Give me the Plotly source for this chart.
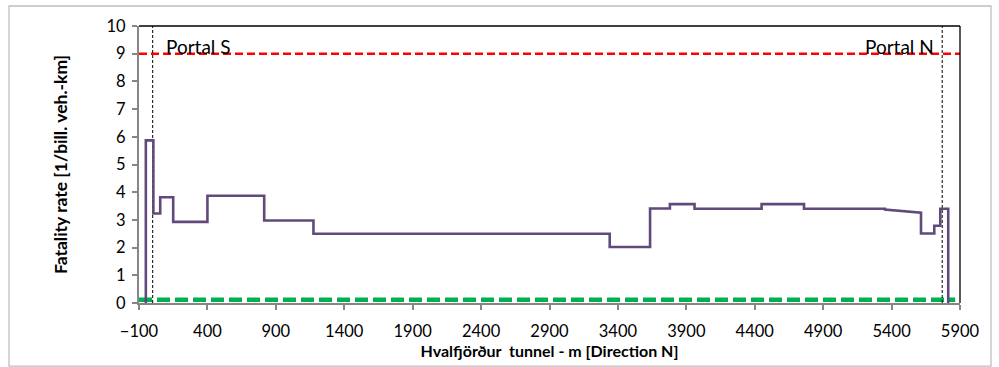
import plotly.graph_objects as go

# Piecewise-constant fatality rate along the tunnel (metres, direction N)
seg_start = [-50, 5, 55, 150, 400, 815, 1175, 3340, 3635, 3780, 3960, 4450, 4760, 5352, 5615, 5712, 5756]
seg_end   = [5, 55, 150, 400, 815, 1175, 3340, 3635, 3780, 3960, 4450, 4760, 5352, 5615, 5712, 5756, 5814]
rate_start = [5.87, 3.23, 3.82, 2.93, 3.87, 2.98, 2.50, 2.02, 3.41, 3.57, 3.40, 3.57, 3.40, 3.37, 2.51, 2.79, 3.40]
rate_end   = [5.87, 3.23, 3.82, 2.93, 3.87, 2.98, 2.50, 2.02, 3.41, 3.57, 3.40, 3.57, 3.40, 3.26, 2.51, 2.79, 3.40]

# Reference levels
upper_level = 9.0
upper_x = [-100, 5900]
lower_level = 0.12
lower_x = [-100, 5865]

# Tunnel portals
portal_x = [0, 5770]
portal_names = ["Portal S", "Portal N"]

x_ticks = list(range(-100, 5901, 500))
y_ticks = list(range(0, 11))

# Build the step path: rise from zero, walk each segment, fall back to zero
px, py = [seg_start[0]], [0.0]
for s, e, a, b in zip(seg_start, seg_end, rate_start, rate_end):
    px += [s, e]
    py += [a, b]
px.append(seg_end[-1])
py.append(0.0)

FONT = "Lato, 'Open Sans', sans-serif"
AXIS_GREY = "#868686"

fig = go.Figure()

fig.add_trace(go.Scatter(
    x=lower_x, y=[lower_level] * 2, mode="lines",
    line=dict(color="#00B050", width=4.5, dash="13px,5px"),
    hoverinfo="skip", showlegend=False,
))
fig.add_trace(go.Scatter(
    x=upper_x, y=[upper_level] * 2, mode="lines",
    line=dict(color="#FF0000", width=2.5, dash="8px,4px"),
    hoverinfo="skip", showlegend=False,
))
for xp in portal_x:
    fig.add_trace(go.Scatter(
        x=[xp, xp], y=[0, 10], mode="lines",
        line=dict(color="black", width=1, dash="3px,2px"),
        hoverinfo="skip", showlegend=False,
    ))
fig.add_trace(go.Scatter(
    x=px, y=py, mode="lines",
    line=dict(color="#604A7B", width=2.6),
    showlegend=False, name="Fatality rate",
))

fig.add_annotation(x=portal_x[0] + 85, y=9.27, text=portal_names[0], showarrow=False,
                   xanchor="left", yanchor="middle",
                   font=dict(family=FONT, size=19, color="black"))
fig.add_annotation(x=portal_x[1] - 45, y=9.27, text=portal_names[1], showarrow=False,
                   xanchor="right", yanchor="middle",
                   font=dict(family=FONT, size=19, color="black"))

# Plot-area frame on top and right, outer chart border
fig.add_shape(type="line", xref="paper", yref="paper", x0=0, x1=1, y0=1, y1=1,
              line=dict(color="black", width=1.3))
fig.add_shape(type="line", xref="paper", yref="paper", x0=1, x1=1, y0=0, y1=1,
              line=dict(color="black", width=1.3))
fig.add_shape(type="rect", xref="paper", yref="paper",
              x0=-130 / 821, x1=1 + 31 / 821, y0=-63 / 276.7, y1=1 + 20 / 276.7,
              line=dict(color="#BFBFBF", width=1.3), layer="below")

fig.update_layout(
    width=999, height=367, autosize=False,
    margin=dict(l=139, r=39, t=26, b=64),
    paper_bgcolor="white", plot_bgcolor="white",
    font=dict(family=FONT, size=16.5, color="black"),
    showlegend=False,
)
fig.update_xaxes(
    range=[-100, 5900], tickmode="array", tickvals=x_ticks,
    ticks="outside", ticklen=5, tickcolor=AXIS_GREY, tickwidth=1.5,
    ticklabelstandoff=7, automargin=False,
    showline=True, linecolor=AXIS_GREY, linewidth=2,
    showgrid=False, zeroline=False,
    tickfont=dict(family=FONT, size=16.5),
    title=dict(text="<b>Hvalfjörður  tunnel - m [Direction N]</b>",
               font=dict(family=FONT, size=16), standoff=6),
)
fig.update_yaxes(
    range=[0, 10], tickmode="array", tickvals=y_ticks,
    ticks="outside", ticklen=5, tickcolor=AXIS_GREY, tickwidth=1.5,
    ticklabelstandoff=3, automargin=False,
    showline=True, linecolor=AXIS_GREY, linewidth=2,
    showgrid=False, zeroline=False,
    tickfont=dict(family=FONT, size=16.5),
    title=dict(text="<b>Fatality rate [1/bill. veh.-km]</b>",
               font=dict(family=FONT, size=17.5), standoff=34),
)

fig.write_html("out.html")
